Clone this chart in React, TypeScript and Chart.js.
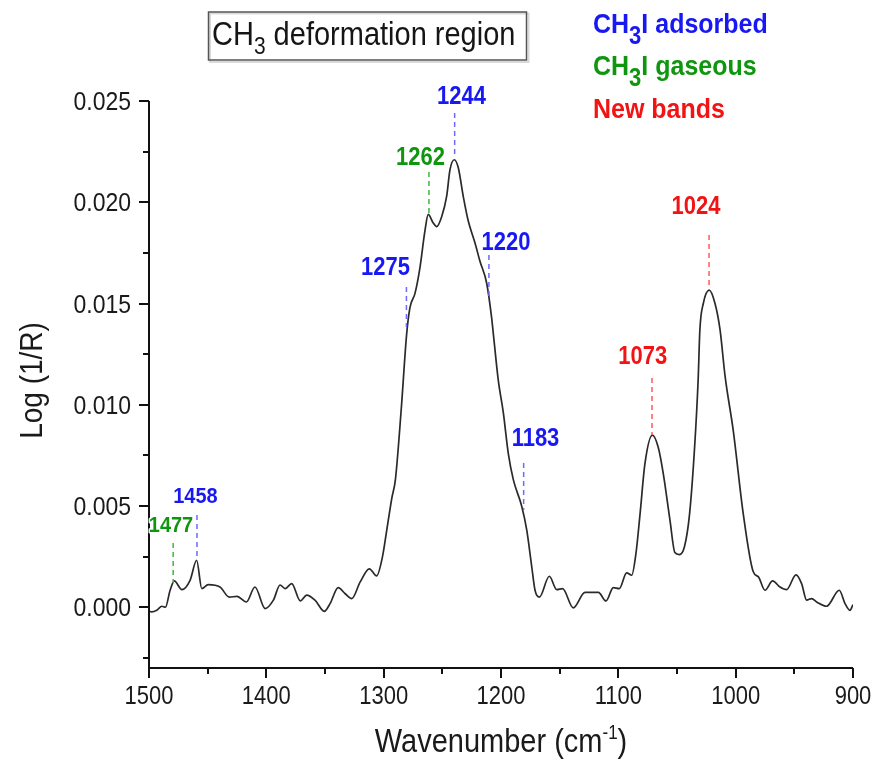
import React, { useEffect, useRef } from 'react';
import { Chart, registerables } from 'chart.js';

Chart.register(...registerables);

// ---- Spectrum data (wavenumber in cm-1, Log(1/R)) ----
const wavenumbers = [
  1500, 1497.7, 1493.4, 1489, 1486, 1482, 1478.4, 1472, 1465, 1459.4, 1455, 1449.5, 1439.5, 1431.5, 1425,
  1417, 1409.7, 1401, 1394, 1388.3, 1384, 1378.4, 1371, 1365.6, 1358.5, 1350.6, 1345.7, 1338.7, 1333,
  1327.2, 1320, 1312.2, 1306, 1301, 1297.4, 1293, 1290, 1285, 1280.4, 1277.6, 1273.3, 1269, 1264.8, 1262,
  1258, 1254.8, 1250.5, 1246.3, 1243.5, 1239.8, 1236.4, 1232.2, 1228, 1222.2, 1218, 1212.2, 1208, 1206,
  1202.3, 1198, 1193.8, 1189.5, 1182.4, 1178, 1173.8, 1171, 1167.3, 1158.8, 1152.5, 1147.5, 1138.4,
  1128.4, 1117, 1110.5, 1104.3, 1099.2, 1092.9, 1088.6, 1085, 1081.5, 1077.3, 1071, 1066, 1061.7, 1056,
  1051.8, 1048, 1043.6, 1039.3, 1035, 1032, 1030.5, 1027.6, 1022.5, 1017.6, 1013.3, 1009, 1002, 993.5,
  985, 980.6, 975, 968.5, 962.2, 956.6, 948.6, 943.8, 939.5, 935.2, 931, 922.5, 911.7, 906.8, 902.6, 900,
];
const logInvR = [
  -0.0002, -0.00023, -0.00015, 0.00005, 0.0, 0.00084, 0.0013, 0.00087, 0.00133, 0.00232, 0.00092, 0.00112, 0.001, 0.0005, 0.00054,
  0.00026, 0.001, -0.00007, 0.00035, 0.0011, 0.00092, 0.00117, 0.00031, 0.0006, 0.00035, -0.0002, 0.00018, 0.00097, 0.00068,
  0.00043, 0.00125, 0.0019, 0.00155, 0.0025, 0.0038, 0.0054, 0.0063, 0.0098, 0.0135, 0.0148, 0.0155, 0.0168, 0.0186, 0.0194,
  0.019, 0.0188, 0.0193, 0.0203, 0.0216, 0.0221, 0.0217, 0.0203, 0.0191, 0.018, 0.0171, 0.016, 0.0143, 0.0132,
  0.0112, 0.0096, 0.0076, 0.0063, 0.005, 0.0038, 0.002, 0.00084, 0.0005, 0.00153, 0.00087, 0.00092, -0.00003,
  0.00073, 0.00073, 0.00031, 0.00097, 0.00092, 0.0017, 0.00158, 0.00265, 0.0046, 0.0071, 0.0085, 0.0079, 0.0066, 0.0043,
  0.0027, 0.0026, 0.003, 0.0046, 0.0079, 0.0112, 0.0137, 0.015, 0.01566, 0.015, 0.0137, 0.0114, 0.0087, 0.0046,
  0.00175, 0.0015, 0.00084, 0.0013, 0.001, 0.00087, 0.0016, 0.00117, 0.00035, 0.00043, 0.00026, 0.00005, 0.00084, 0.00018, -0.00015, 0.00013,
];

// ---- Axes ----
const xMajorTicks = [1500, 1400, 1300, 1200, 1100, 1000, 900];
const xMinorTicks = [1450, 1350, 1250, 1150, 1050, 950];
const yMajorTicks = [0, 0.005, 0.01, 0.015, 0.02, 0.025];
const yMinorTicks = [-0.0025, 0.0025, 0.0075, 0.0125, 0.0175, 0.0225];
const xRange = [900, 1500];
const yRange = [-0.003, 0.025];

// ---- Band annotations ----
const bandLabels = ['1477', '1458', '1275', '1262', '1244', '1220', '1183', '1073', '1024'];
const bandGroups = ['gas', 'ads', 'ads', 'gas', 'ads', 'ads', 'ads', 'new', 'new'];
const bandLineX = [1479.4, 1459.1, 1280.6, 1261.4, 1239.5, 1210.3, 1180.7, 1071.3, 1022.7];
const bandLineTop = [0.00317, 0.00456, 0.01581, 0.0215, 0.02441, 0.0174, 0.00712, 0.01132, 0.01838];
const bandLineBottom = [0.0012, 0.00243, 0.01384, 0.01937, 0.02233, 0.01517, 0.0048, 0.00851, 0.01567];
const bandLabelX = [1481.25, 1460.4, 1298.4, 1268.6, 1233.7, 1195.7, 1170.6, 1079.2, 1033.9];
const bandLabelY = [0.00404, 0.00544, 0.01674, 0.02217, 0.02521, 0.01797, 0.0083, 0.01233, 0.01974];

// ---- Legend ----
const legendGroups = ['ads', 'gas', 'new'];
const legendPrefix = ['CH', 'CH', 'New bands'];
const legendSub = ['3', '3', ''];
const legendSuffix = ['I adsorbed', 'I gaseous', ''];

const titleMain = 'CH';
const titleSub = '3';
const titleRest = ' deformation region';
const xTitle = 'Wavenumber (cm';
const xTitleSup = '-1';
const xTitleEnd = ')';
const yTitle = 'Log (1/R)';

const textColors: Record<string, string> = { ads: '#1818f2', gas: '#0f960f', new: '#f21414' };
const lineColors: Record<string, string> = { ads: '#6a6aff', gas: '#3fb43f', new: '#ff5a5a' };

const FONT = "'Liberation Sans', Arial, sans-serif";
const SY = 1.14;

type Run = { text: string; font: string; dy: number };

function drawRuns(ctx: CanvasRenderingContext2D, runs: Run[], x: number, y: number, align: 'left' | 'center' | 'right', color: string, halo = false) {
  let total = 0;
  const widths = runs.map((r) => {
    ctx.font = r.font;
    const w = ctx.measureText(r.text).width;
    total += w;
    return w;
  });
  let cx = align === 'center' ? x - total / 2 : align === 'right' ? x - total : x;
  ctx.textAlign = 'left';
  runs.forEach((r, i) => {
    ctx.font = r.font;
    ctx.save();
    ctx.translate(cx, y + r.dy);
    ctx.scale(1, SY);
    if (halo) {
      ctx.strokeStyle = 'rgba(255,255,255,0.9)';
      ctx.lineWidth = 3;
      ctx.lineJoin = 'round';
      ctx.strokeText(r.text, 0, 0);
    }
    ctx.fillStyle = color;
    ctx.fillText(r.text, 0, 0);
    ctx.restore();
    cx += widths[i];
  });
}

const decorPlugin = {
  id: 'decor',
  afterDraw(chart: any) {
    const ctx: CanvasRenderingContext2D = chart.ctx;
    const xs = chart.scales.x;
    const ys = chart.scales.y;
    const { left, right, top, bottom } = chart.chartArea;
    ctx.save();

    // axis lines
    ctx.strokeStyle = '#111';
    ctx.lineWidth = 2;
    ctx.setLineDash([]);
    ctx.beginPath();
    ctx.moveTo(left, top);
    ctx.lineTo(left, bottom + 1);
    ctx.moveTo(left - 1, bottom);
    ctx.lineTo(right, bottom);
    ctx.stroke();

    // ticks
    ctx.beginPath();
    xMajorTicks.forEach((v) => {
      const px = Math.round(xs.getPixelForValue(v));
      ctx.moveTo(px, bottom);
      ctx.lineTo(px, bottom + 10);
    });
    xMinorTicks.forEach((v) => {
      const px = Math.round(xs.getPixelForValue(v));
      ctx.moveTo(px, bottom);
      ctx.lineTo(px, bottom + 6);
    });
    yMajorTicks.forEach((v) => {
      const py = Math.round(ys.getPixelForValue(v));
      ctx.moveTo(left, py);
      ctx.lineTo(left - 10, py);
    });
    yMinorTicks.forEach((v) => {
      const py = Math.round(ys.getPixelForValue(v));
      ctx.moveTo(left, py);
      ctx.lineTo(left - 6, py);
    });
    ctx.stroke();

    // tick labels
    ctx.textBaseline = 'alphabetic';
    xMajorTicks.forEach((v) => {
      drawRuns(ctx, [{ text: String(v), font: `22px ${FONT}`, dy: 0 }], xs.getPixelForValue(v), bottom + 36, 'center', '#1a1a1a');
    });
    yMajorTicks.forEach((v) => {
      drawRuns(ctx, [{ text: v.toFixed(3), font: `23px ${FONT}`, dy: 0 }], left - 18, ys.getPixelForValue(v) + 9, 'right', '#1a1a1a');
    });

    // axis titles
    drawRuns(
      ctx,
      [
        { text: xTitle, font: `29px ${FONT}`, dy: 0 },
        { text: xTitleSup, font: `17px ${FONT}`, dy: -13 },
        { text: xTitleEnd, font: `29px ${FONT}`, dy: 0 },
      ],
      (left + right) / 2,
      752,
      'center',
      '#1a1a1a'
    );
    ctx.save();
    ctx.translate(42, (top + bottom) / 2 - 4);
    ctx.rotate(-Math.PI / 2);
    drawRuns(ctx, [{ text: yTitle, font: `28px ${FONT}`, dy: 0 }], 0, 0, 'center', '#1a1a1a');
    ctx.restore();

    // title box
    ctx.strokeStyle = 'rgba(0,0,0,0.15)';
    ctx.lineWidth = 2;
    ctx.strokeRect(210, 13.5, 318.5, 48.5);
    ctx.strokeStyle = '#555';
    ctx.lineWidth = 1.5;
    ctx.strokeRect(208.5, 12, 318, 48);
    drawRuns(
      ctx,
      [
        { text: titleMain, font: `29px ${FONT}`, dy: 0 },
        { text: titleSub, font: `21px ${FONT}`, dy: 9 },
        { text: titleRest, font: `29px ${FONT}`, dy: 0 },
      ],
      212,
      45,
      'left',
      '#151515'
    );

    // legend
    const legendBase = [33, 75, 118];
    legendGroups.forEach((g, i) => {
      const runs: Run[] = [{ text: legendPrefix[i], font: `bold 25px ${FONT}`, dy: 0 }];
      if (legendSub[i]) runs.push({ text: legendSub[i], font: `bold 22px ${FONT}`, dy: 11 });
      if (legendSuffix[i]) runs.push({ text: legendSuffix[i], font: `bold 25px ${FONT}`, dy: 0 });
      drawRuns(ctx, runs, 593, legendBase[i], 'left', textColors[g]);
    });

    // band annotations
    bandLabels.forEach((lab, i) => {
      const g = bandGroups[i];
      const lx = xs.getPixelForValue(bandLineX[i]);
      ctx.strokeStyle = lineColors[g];
      ctx.lineWidth = 1.5;
      ctx.setLineDash([5, 4]);
      ctx.beginPath();
      ctx.moveTo(lx, ys.getPixelForValue(bandLineTop[i]));
      ctx.lineTo(lx, ys.getPixelForValue(bandLineBottom[i]));
      ctx.stroke();
      ctx.setLineDash([]);
      const size = i < 2 ? 20 : 22;
      ctx.textBaseline = 'middle';
      drawRuns(
        ctx,
        [{ text: lab, font: `bold ${size}px ${FONT}`, dy: 0 }],
        xs.getPixelForValue(bandLabelX[i]),
        ys.getPixelForValue(bandLabelY[i]),
        'center',
        textColors[g],
        true
      );
      ctx.textBaseline = 'alphabetic';
    });

    ctx.restore();
  },
};

export default function App() {
  const ref = useRef<HTMLCanvasElement | null>(null);
  useEffect(() => {
    document.body.style.margin = '0';
    const canvas = ref.current;
    if (!canvas) return;
    const points = wavenumbers.map((w, i) => ({ x: w, y: logInvR[i] }));
    const chart = new Chart(canvas, {
      type: 'line',
      data: {
        datasets: [
          {
            data: points,
            borderColor: '#2a2a2a',
            borderWidth: 1.7,
            pointRadius: 0,
            fill: false,
            cubicInterpolationMode: 'monotone',
          },
        ],
      },
      options: {
        responsive: false,
        devicePixelRatio: 1,
        animation: false,
        layout: { padding: { left: 149, right: 24, top: 101, bottom: 92 } },
        plugins: { legend: { display: false }, tooltip: { enabled: false }, title: { display: false } },
        scales: {
          x: { type: 'linear', display: false, reverse: true, min: xRange[0], max: xRange[1] },
          y: { type: 'linear', display: false, min: yRange[0], max: yRange[1] },
        },
      },
      plugins: [decorPlugin],
    } as any);
    return () => chart.destroy();
  }, []);
  return <canvas ref={ref} width={877} height={760} style={{ display: 'block' }} />;
}
